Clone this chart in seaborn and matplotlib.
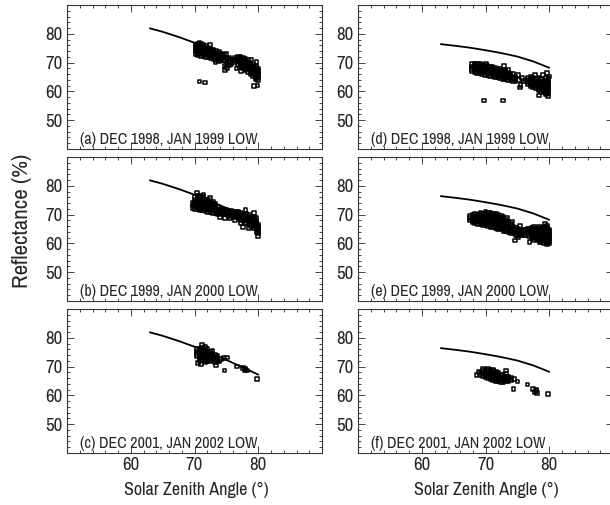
import numpy as np
import pandas as pd
import matplotlib
matplotlib.use("Agg")
import matplotlib.pyplot as plt
from matplotlib.ticker import MultipleLocator
from matplotlib import font_manager
import seaborn as sns

# ---------------- data ----------------
model_sza = [63, 65, 67.5, 70, 72.5, 75, 77.5, 80]
model_left = [81.9, 80.7, 78.9, 76.9, 74.6, 72.3, 69.8, 67.2]
model_right = [76.4, 75.9, 75.2, 74.3, 73.3, 72.1, 70.4, 68.2]

panel_titles = ["(a) DEC 1998, JAN 1999 LOW", "(b) DEC 1999, JAN 2000 LOW",
                "(c) DEC 2001, JAN 2002 LOW", "(d) DEC 1998, JAN 1999 LOW",
                "(e) DEC 1999, JAN 2000 LOW", "(f) DEC 2001, JAN 2002 LOW"]

cols_a = [(70.2, [73.0, 73.8, 74.6, 75.4, 76.2]), (70.6, [72.6, 73.4, 74.2, 75.0, 75.8, 76.6]),
          (71.0, [72.4, 73.2, 74.0, 74.8, 75.6, 76.4]), (71.4, [72.2, 73.0, 73.8, 74.6, 75.4, 76.0]),
          (71.8, [72.0, 72.8, 73.6, 74.4, 75.2, 75.8]), (72.2, [71.8, 72.6, 73.4, 74.2, 75.0]),
          (72.6, [71.4, 72.2, 73.0, 73.8, 74.6]), (73.0, [71.2, 72.0, 72.8, 73.6, 74.4]),
          (73.4, [70.8, 71.6, 72.4, 73.2, 74.0]), (73.8, [70.6, 71.4, 72.2, 73.0, 73.6]),
          (74.2, [70.8, 71.6, 72.4, 73.2]), (74.6, [71.0, 71.8, 72.6]),
          (76.4, [70.2, 71.0, 71.8]), (76.8, [69.6, 70.4, 71.2, 72.0]),
          (77.2, [68.8, 69.6, 70.4, 71.2, 72.0]), (77.6, [68.0, 68.8, 69.6, 70.4, 71.2, 71.8]),
          (78.0, [67.4, 68.2, 69.0, 69.8, 70.6, 71.4]), (78.4, [66.8, 67.6, 68.4, 69.2, 70.0, 70.8]),
          (78.8, [66.0, 66.8, 67.6, 68.4, 69.2, 70.0]), (79.2, [65.2, 66.0, 66.8, 67.6, 68.4, 69.2]),
          (79.6, [64.2, 65.0, 65.8, 66.6, 67.4, 68.2, 69.0]), (80.0, [64.0, 64.8, 65.6, 66.4, 67.2, 68.0])]
extra_a_x = [70.8, 72.4, 74.9, 73.3, 74.9, 75.2, 75.0, 75.4, 75.6, 75.1, 74.8, 75.8, 76.0, 75.5, 74.7,
             70.8, 71.6, 79.3, 79.9, 79.7, 78.9, 77.3, 76.6]
extra_a_y = [77.0, 76.0, 72.9, 70.2, 71.6, 70.4, 69.4, 69.0, 70.2, 68.2, 67.4, 69.4, 71.0, 71.8, 68.8,
             63.4, 63.1, 61.8, 62.0, 70.3, 70.9, 67.0, 68.0]

cols_b = [(69.7, [72.4, 73.2, 74.0]), (70.1, [72.0, 72.8, 73.6, 74.4, 75.2, 76.0]),
          (70.5, [71.8, 72.6, 73.4, 74.2, 75.0, 75.8, 76.6]), (70.9, [71.6, 72.4, 73.2, 74.0, 74.8, 75.6, 76.4]),
          (71.3, [71.4, 72.2, 73.0, 73.8, 74.6, 75.4, 76.2]), (71.7, [71.2, 72.0, 72.8, 73.6, 74.4, 75.2]),
          (72.1, [71.0, 71.8, 72.6, 73.4, 74.2, 75.0]), (72.5, [70.8, 71.6, 72.4, 73.2, 74.0]),
          (72.9, [70.6, 71.4, 72.2, 73.0, 73.8]), (73.3, [70.4, 71.2, 72.0, 72.8, 73.6]),
          (73.7, [70.2, 71.0, 71.8, 72.6]), (74.1, [70.4, 71.2, 72.0]),
          (74.5, [70.2, 71.0, 71.8]), (74.9, [70.0, 70.8, 71.6]), (75.3, [69.8, 70.6, 71.4]),
          (75.7, [69.6, 70.4, 71.2]), (76.1, [69.4, 70.2, 71.0]), (76.5, [69.2, 70.0, 70.8]),
          (76.9, [68.6, 69.4, 70.2, 71.0]), (77.3, [68.2, 69.0, 69.8, 70.6]),
          (77.7, [67.8, 68.6, 69.4, 70.2]), (78.1, [67.2, 68.0, 68.8, 69.6, 70.4]),
          (78.5, [66.6, 67.4, 68.2, 69.0, 69.8]), (78.9, [66.0, 66.8, 67.6, 68.4, 69.2]),
          (79.3, [65.2, 66.0, 66.8, 67.6, 68.4, 69.2]), (79.7, [64.0, 64.8, 65.6, 66.4, 67.2, 68.0, 68.8]),
          (80.0, [62.6, 63.4, 64.2, 65.0, 65.8, 66.6])]
extra_b_x = [70.4, 71.4, 72.4, 73.0, 74.8, 75.6, 76.4, 77.3, 78.0, 79.3, 74.0, 77.6, 78.5]
extra_b_y = [77.4, 77.0, 75.8, 74.6, 68.8, 68.6, 68.2, 67.0, 71.5, 70.6, 69.2, 65.8, 65.4]

cols_c = [(70.4, [73.6, 74.4, 75.2, 76.0]), (70.8, [72.0, 72.8, 73.6, 74.4, 75.2, 76.0]),
          (71.2, [72.4, 73.2, 74.0, 74.8, 75.6, 76.6, 77.4]), (71.6, [71.6, 72.4, 73.2, 74.0, 74.8, 75.6, 76.8]),
          (72.0, [72.0, 72.8, 73.6, 74.4, 75.2, 76.0]), (72.4, [71.8, 72.6, 73.4, 74.2, 75.0]),
          (72.8, [72.2, 73.0, 73.8, 74.6, 75.4]), (73.2, [71.4, 72.4, 73.2, 74.0]),
          (73.6, [72.0, 72.8, 73.6])]
extra_c_x = [70.6, 71.0, 73.9, 74.2, 74.6, 75.1, 74.7, 76.7, 77.6, 77.9, 78.2, 78.0, 79.8, 73.4]
extra_c_y = [71.2, 70.8, 71.8, 72.6, 73.1, 73.2, 68.7, 70.0, 69.4, 68.8, 68.6, 69.2, 65.6, 70.4]

cols_d = [(67.9, [67.0, 67.8, 68.6, 69.4]), (68.3, [66.6, 67.4, 68.2, 69.0, 69.6]),
          (68.7, [66.4, 67.2, 68.0, 68.8, 69.6]), (69.1, [66.2, 67.0, 67.8, 68.6, 69.4]),
          (69.5, [66.0, 66.8, 67.6, 68.4, 69.2]), (69.9, [65.8, 66.6, 67.4, 68.2, 69.0]),
          (70.3, [65.6, 66.4, 67.2, 68.0, 68.8]), (70.7, [65.4, 66.2, 67.0, 67.8, 68.6]),
          (71.1, [65.2, 66.0, 66.8, 67.6, 68.4]), (71.5, [65.0, 65.8, 66.6, 67.4, 68.2]),
          (71.9, [64.8, 65.6, 66.4, 67.2, 68.0]), (72.3, [64.6, 65.4, 66.2, 67.0, 67.8]),
          (72.7, [64.4, 65.2, 66.0, 66.8, 67.6]), (73.1, [64.2, 65.0, 65.8, 66.6, 67.2]),
          (73.5, [64.0, 64.8, 65.6, 66.4]), (73.9, [63.8, 64.6, 65.4, 66.2]),
          (74.3, [63.6, 64.4, 65.2, 66.0]), (74.7, [63.4, 64.2, 65.0]),
          (76.7, [62.4, 63.2, 64.0, 64.8]), (77.1, [61.8, 62.6, 63.4, 64.2, 65.0]),
          (77.5, [61.4, 62.2, 63.0, 63.8, 64.6]), (77.9, [61.0, 61.8, 62.6, 63.4, 64.2]),
          (78.3, [60.6, 61.4, 62.2, 63.0, 63.8, 64.6]), (78.7, [60.2, 61.0, 61.8, 62.6, 63.4, 64.2]),
          (79.1, [59.8, 60.6, 61.4, 62.2, 63.0, 63.8]),
          (79.5, [59.0, 59.8, 60.6, 61.4, 62.2, 63.0, 63.8, 64.6]),
          (79.9, [59.4, 60.2, 61.0, 61.8, 62.6, 63.4, 64.2])]
extra_d_x = [75.1, 75.3, 75.5, 75.7, 76.0, 76.3, 75.4, 72.9, 70.1, 73.6,
             69.8, 72.7, 77.8, 79.0, 79.6, 80.0, 78.4, 79.8]
extra_d_y = [65.6, 64.0, 62.2, 64.6, 63.6, 63.8, 61.4, 68.8, 69.6, 67.4,
             56.8, 56.8, 65.8, 65.6, 66.4, 65.2, 58.6, 58.2]

cols_e = [(67.6, [68.0, 68.8, 69.6]), (68.0, [67.4, 68.2, 69.0, 69.8]),
          (68.4, [67.0, 67.8, 68.6, 69.4, 70.2]), (68.8, [66.8, 67.6, 68.4, 69.2, 70.0]),
          (69.2, [66.6, 67.4, 68.2, 69.0, 69.8, 70.5]), (69.6, [66.4, 67.2, 68.0, 68.8, 69.6, 70.4]),
          (70.0, [66.2, 67.0, 67.8, 68.6, 69.4, 70.2, 70.8]), (70.4, [66.0, 66.8, 67.6, 68.4, 69.2, 70.0, 70.6]),
          (70.8, [65.8, 66.6, 67.4, 68.2, 69.0, 69.8, 70.5]), (71.2, [65.6, 66.4, 67.2, 68.0, 68.8, 69.6, 70.4]),
          (71.6, [65.4, 66.2, 67.0, 67.8, 68.6, 69.4, 70.2]), (72.0, [65.0, 65.8, 66.6, 67.4, 68.2, 69.0, 69.8]),
          (72.4, [64.8, 65.6, 66.4, 67.2, 68.0, 68.8, 69.6]), (72.8, [64.4, 65.2, 66.0, 66.8, 67.6, 68.4, 69.2]),
          (73.2, [64.2, 65.0, 65.8, 66.6, 67.4, 68.2]), (73.6, [64.0, 64.8, 65.6, 66.4, 67.2]),
          (74.0, [63.6, 64.4, 65.2, 66.0, 66.8]), (74.4, [63.4, 64.2, 65.0, 65.8]),
          (74.8, [63.0, 63.8, 64.6, 65.4]), (75.2, [62.8, 63.6, 64.4, 65.2]),
          (75.6, [62.8, 63.6, 64.4]), (76.0, [63.0, 63.8, 64.6]), (76.4, [63.0, 63.8, 64.6]),
          (76.8, [62.6, 63.4, 64.2, 65.0]), (77.2, [62.2, 63.0, 63.8, 64.6, 65.4]),
          (77.6, [61.8, 62.6, 63.4, 64.2, 65.0, 65.8]), (78.0, [61.4, 62.2, 63.0, 63.8, 64.6, 65.4]),
          (78.4, [61.0, 61.8, 62.6, 63.4, 64.2, 65.0, 65.8]), (78.8, [60.6, 61.4, 62.2, 63.0, 63.8, 64.6, 65.4]),
          (79.2, [60.2, 61.0, 61.8, 62.6, 63.4, 64.2, 65.0, 65.8]),
          (79.6, [59.8, 60.6, 61.4, 62.2, 63.0, 63.8, 64.6, 65.4, 66.2]),
          (80.0, [60.0, 60.8, 61.6, 62.4, 63.2, 64.0, 64.8])]
extra_e_x = [74.6, 75.1, 76.9, 77.6, 78.5, 73.4, 74.2, 75.4, 76.6, 79.3]
extra_e_y = [61.0, 62.0, 60.6, 61.0, 60.4, 68.8, 67.6, 66.0, 65.2, 66.8]

cols_f = [(69.2, [67.2, 68.0]), (69.6, [66.8, 67.6, 68.4]), (70.0, [66.4, 67.2, 68.0, 68.8]),
          (70.4, [66.0, 66.8, 67.6, 68.4, 69.2]), (70.8, [65.6, 66.4, 67.2, 68.0, 68.8]),
          (71.2, [65.2, 66.0, 66.8, 67.6, 68.4, 69.0]), (71.6, [65.0, 65.8, 66.6, 67.4, 68.2]),
          (72.0, [64.8, 65.6, 66.4, 67.2, 68.0]), (72.4, [64.6, 65.4, 66.2, 67.0]),
          (72.8, [64.6, 65.4, 66.2, 67.0]), (73.2, [64.8, 65.6, 66.4, 67.6]),
          (73.6, [65.0, 65.8, 66.6]), (74.0, [65.4, 66.2])]
extra_f_x = [68.6, 68.9, 69.6, 74.5, 75.0, 74.4, 76.6, 77.4, 77.7, 78.0, 78.1, 77.9, 79.8, 73.2]
extra_f_y = [67.0, 68.2, 69.2, 65.6, 64.8, 62.3, 63.8, 62.3, 61.2, 61.6, 60.8, 62.0, 60.6, 68.6]


def build(cols, ex, ey):
    xs, ys = [], []
    for x, yl in cols:
        xs += [x] * len(yl)
        ys += yl
    return pd.DataFrame({"sza": xs + ex, "refl": ys + ey})


panels = [build(cols_a, extra_a_x, extra_a_y), build(cols_b, extra_b_x, extra_b_y),
          build(cols_c, extra_c_x, extra_c_y), build(cols_d, extra_d_x, extra_d_y),
          build(cols_e, extra_e_x, extra_e_y), build(cols_f, extra_f_x, extra_f_y)]

# ---------------- figure ----------------
sns.set_style("ticks")

narrow = None
for f in font_manager.fontManager.ttflist:
    n = f.name
    if ("Narrow" in n or "Condensed" in n) and "Mono" not in n and "Serif" not in n:
        narrow = n
        break
if narrow is None:
    for f in font_manager.fontManager.ttflist:
        if f.stretch in ("condensed", "semi-condensed", "extra-condensed") and "Mono" not in f.name:
            narrow = f.name
            break
fams = ([narrow] if narrow else []) + ["Liberation Sans", "DejaVu Sans"]
plt.rcParams["font.family"] = fams
stretch = "condensed"
k = 1.0 if narrow else 0.82

W, H = 610, 505
fig = plt.figure(figsize=(W / 100, H / 100), dpi=100)

lefts = [67, 358]
tops = [5, 157, 309]
aw, ah = 255, 144

for i, df in enumerate(panels):
    col = i // 3
    row = i % 3
    ax = fig.add_axes([lefts[col] / W, 1 - (tops[row] + ah) / H, aw / W, ah / H])
    mdf = pd.DataFrame({"sza": model_sza, "refl": model_left if col == 0 else model_right})
    sns.lineplot(data=mdf, x="sza", y="refl", ax=ax, color="black", linewidth=1.3)
    ax.scatter(df["sza"], df["refl"], marker="s", s=7, facecolors="none",
               edgecolors="black", linewidths=1.1)
    ax.set_xlim(50, 90)
    ax.set_ylim(40, 90)
    ax.set_xticks([60, 70, 80])
    ax.set_yticks([50, 60, 70, 80])
    ax.xaxis.set_minor_locator(MultipleLocator(2))
    ax.yaxis.set_minor_locator(MultipleLocator(2))
    ax.tick_params(which="both", direction="in", top=True, right=True, labelsize=13.5 * k,
                   width=0.7, color="#444444", pad=3)
    ax.tick_params(which="major", length=5)
    ax.tick_params(which="minor", length=2)
    for lab in ax.get_xticklabels() + ax.get_yticklabels():
        lab.set_fontstretch(stretch)
    ax.set_xlabel("")
    ax.set_ylabel("")
    if row < 2:
        ax.tick_params(labelbottom=False)
    for sp in ax.spines.values():
        sp.set_linewidth(0.8)
        sp.set_color("#333333")
    ax.text(0.052, 0.012, panel_titles[i], transform=ax.transAxes, fontsize=11.5 * k,
            ha="left", va="bottom", fontstretch=stretch)

fig.text(22 / W, 1 - 221 / H, "Reflectance (%)", rotation=90, ha="center", va="center",
         fontsize=16.5 * k, fontstretch=stretch)
fig.text(196 / W, 1 - 490 / H, "Solar Zenith Angle (°)", ha="center", va="center",
         fontsize=13 * k, fontstretch=stretch)
fig.text(486 / W, 1 - 490 / H, "Solar Zenith Angle (°)", ha="center", va="center",
         fontsize=13 * k, fontstretch=stretch)

fig.savefig("out.png", dpi=100)
